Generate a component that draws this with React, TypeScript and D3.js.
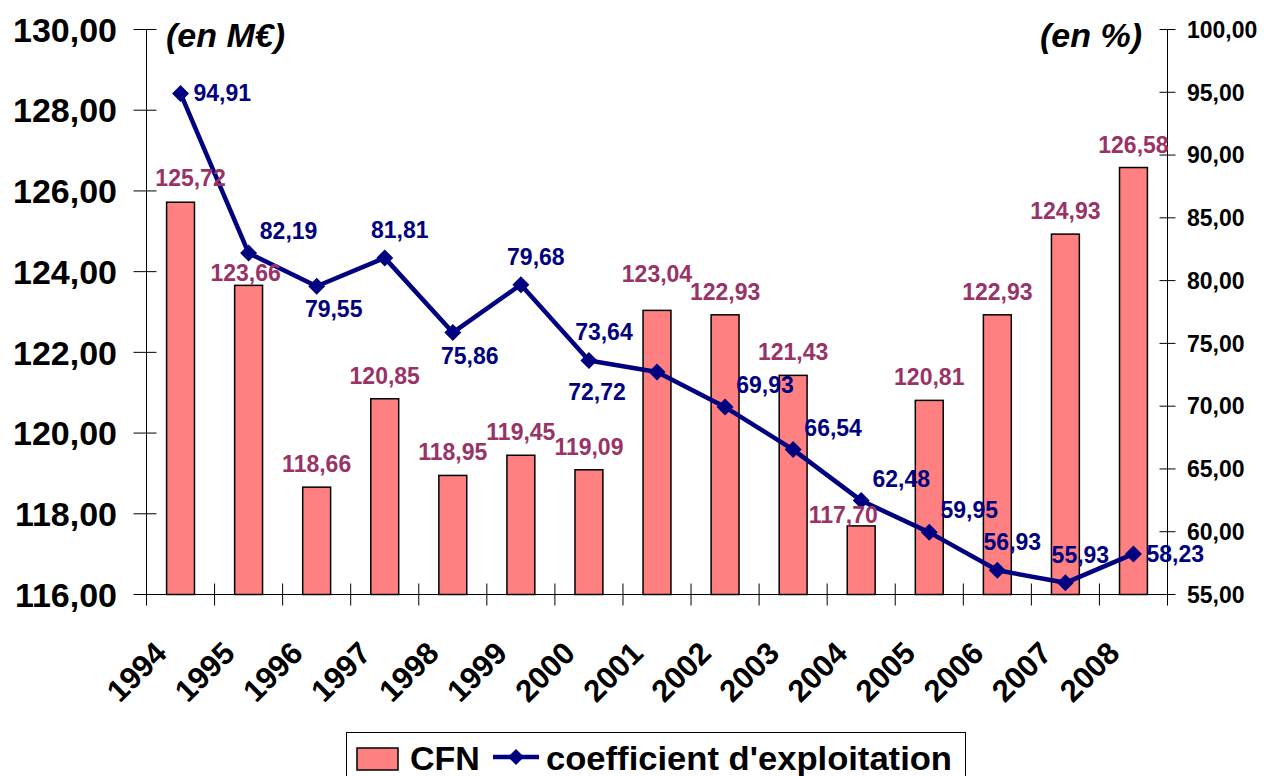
import React from 'react';
import * as d3 from 'd3';

const years = ['1994','1995','1996','1997','1998','1999','2000','2001','2002','2003','2004','2005','2006','2007','2008'];
const cfn = [125.72,123.66,118.66,120.85,118.95,119.45,119.09,123.04,122.93,121.43,117.70,120.81,122.93,124.93,126.58];
const coef = [94.91,82.19,79.55,81.81,75.86,79.68,73.64,72.72,69.93,66.54,62.48,59.95,56.93,55.93,58.23];
const leftTicks = [116,118,120,122,124,126,128,130];
const rightTicks = [55,60,65,70,75,80,85,90,95,100];
const coefLabelPlacement = ['right','aboveRight','below','above','below','above','above','belowLeft','aboveRight','aboveRight','aboveRight','aboveRight','above','above','right'];
const cfnLabelPlacement = ['aboveRight','low','above','above','above','above','above','high','above','above','lowLeft','above','above','above','above'];
const seriesNames = ['CFN', "coefficient d'exploitation"];

const W = 1264, H = 776;
const M = { left: 146.5, right: 1167.5, top: 29.5, bottom: 594.5 };
const FONT = '"Liberation Sans", Arial, sans-serif';
const BAR_FILL = '#FF8080';
const BAR_LABEL = '#993366';
const LINE = '#000080';

const fmt = (v: number) => v.toFixed(2).replace('.', ',');

const placementOffset: Record<string, { dx: number; dy: number; anchor: string }> = {
  right: { dx: 13, dy: 8, anchor: 'start' },
  above: { dx: 15, dy: -20, anchor: 'middle' },
  aboveRight: { dx: 40, dy: -14, anchor: 'middle' },
  below: { dx: 17, dy: 31, anchor: 'middle' },
  belowLeft: { dx: -60, dy: 28, anchor: 'middle' },
};

const barPlacementOffset: Record<string, { dx: number; dy: number }> = {
  above: { dx: 0, dy: -15 },
  aboveRight: { dx: 10, dy: -16 },
  low: { dx: -3, dy: -4 },
  high: { dx: 0, dy: -28 },
  lowLeft: { dx: -18, dy: -3 },
};

function diamond(cx: number, cy: number, r: number) {
  return `M${cx},${cy - r}L${cx + r},${cy}L${cx},${cy + r}L${cx - r},${cy}Z`;
}

export default function App() {
  const x = d3.scaleBand<string>().domain(years).range([M.left, M.right]).paddingInner(0).paddingOuter(0);
  const yL = d3.scaleLinear().domain([116, 130]).range([M.bottom, M.top]);
  const yR = d3.scaleLinear().domain([55, 100]).range([M.bottom, M.top]);
  const bw = x.bandwidth();
  const barW = bw * 0.41;
  const cx = (y: string) => (x(y) as number) + bw / 2;

  const line = d3.line<number>().x((_, i) => cx(years[i])).y((d) => yR(d));

  return (
    <svg width={W} height={H} style={{ position: 'absolute', left: 0, top: 0, background: '#fff' }} fontFamily={FONT} fontWeight="bold">
      {/* bars */}
      {cfn.map((v, i) => (
        <rect key={'b' + i} x={cx(years[i]) - barW / 2} y={yL(v)} width={barW} height={yL(116) - yL(v)}
          fill={BAR_FILL} stroke="#000" strokeWidth={1.5} />
      ))}
      {/* axes */}
      <line x1={M.left} x2={M.left} y1={M.top} y2={M.bottom} stroke="#000" strokeWidth={1} />
      <line x1={M.right} x2={M.right} y1={M.top} y2={M.bottom} stroke="#000" strokeWidth={1} />
      <line x1={M.left} x2={M.right} y1={M.bottom} y2={M.bottom} stroke="#000" strokeWidth={1} />
      {leftTicks.map((t) => (
        <g key={'lt' + t}>
          <line x1={M.left - 13} x2={M.left + 10} y1={yL(t)} y2={yL(t)} stroke="#000" strokeWidth={1} />
          <text x={117} y={yL(t)} dy="0.36em" textAnchor="end" fontSize={34}>{fmt(t)}</text>
        </g>
      ))}
      {rightTicks.map((t) => (
        <g key={'rt' + t}>
          <line x1={M.right - 8} x2={M.right + 8} y1={yR(t)} y2={yR(t)} stroke="#000" strokeWidth={1} />
          <text x={1187} y={yR(t)} dy="0.36em" textAnchor="start" fontSize={23}>{fmt(t)}</text>
        </g>
      ))}
      {years.map((y, i) => (
        <line key={'xt' + i} x1={(x(y) as number)} x2={(x(y) as number)} y1={M.bottom - 11} y2={M.bottom + 11} stroke="#000" strokeWidth={1} />
      ))}
      <line x1={M.right} x2={M.right} y1={M.bottom - 11} y2={M.bottom + 11} stroke="#000" strokeWidth={1} />
      {years.map((y, i) => (
        <text key={'xl' + i} transform={`translate(${cx(y) - 12},${655}) rotate(-45)`} textAnchor="end" fontSize={31}>{y}</text>
      ))}
      {/* unit labels */}
      <text x={166} y={47} fontSize={34} fontStyle="italic">(en M€)</text>
      <text x={1142} y={47} fontSize={34} fontStyle="italic" textAnchor="end">(en %)</text>
      {/* line */}
      <path d={line(coef) || ''} fill="none" stroke={LINE} strokeWidth={4.5} strokeLinejoin="round" />
      {coef.map((v, i) => (
        <path key={'m' + i} d={diamond(cx(years[i]), yR(v), 8.5)} fill={LINE} />
      ))}
      {/* bar labels */}
      {cfn.map((v, i) => {
        const o = barPlacementOffset[cfnLabelPlacement[i]];
        return (
          <text key={'bl' + i} x={cx(years[i]) + o.dx} y={yL(v) + o.dy} textAnchor="middle" fontSize={23} fill={BAR_LABEL}>{fmt(v)}</text>
        );
      })}
      {/* line labels */}
      {coef.map((v, i) => {
        const o = placementOffset[coefLabelPlacement[i]];
        return (
          <text key={'ll' + i} x={cx(years[i]) + o.dx} y={yR(v) + o.dy} textAnchor={o.anchor} fontSize={23} fill={LINE}>{fmt(v)}</text>
        );
      })}
      {/* legend */}
      <rect x={346.5} y={732.5} width={619} height={60} fill="#fff" stroke="#000" strokeWidth={1} />
      <rect x={357} y={748} width={41} height={22} fill={BAR_FILL} stroke="#000" strokeWidth={1.5} />
      <text x={410} y={770} fontSize={34}>{seriesNames[0]}</text>
      <line x1={493} x2={539} y1={757} y2={757} stroke={LINE} strokeWidth={4.5} />
      <path d={diamond(516, 757, 8)} fill={LINE} />
      <text x={546} y={770} fontSize={34} textLength={406} lengthAdjust="spacingAndGlyphs">{seriesNames[1]}</text>
    </svg>
  );
}
